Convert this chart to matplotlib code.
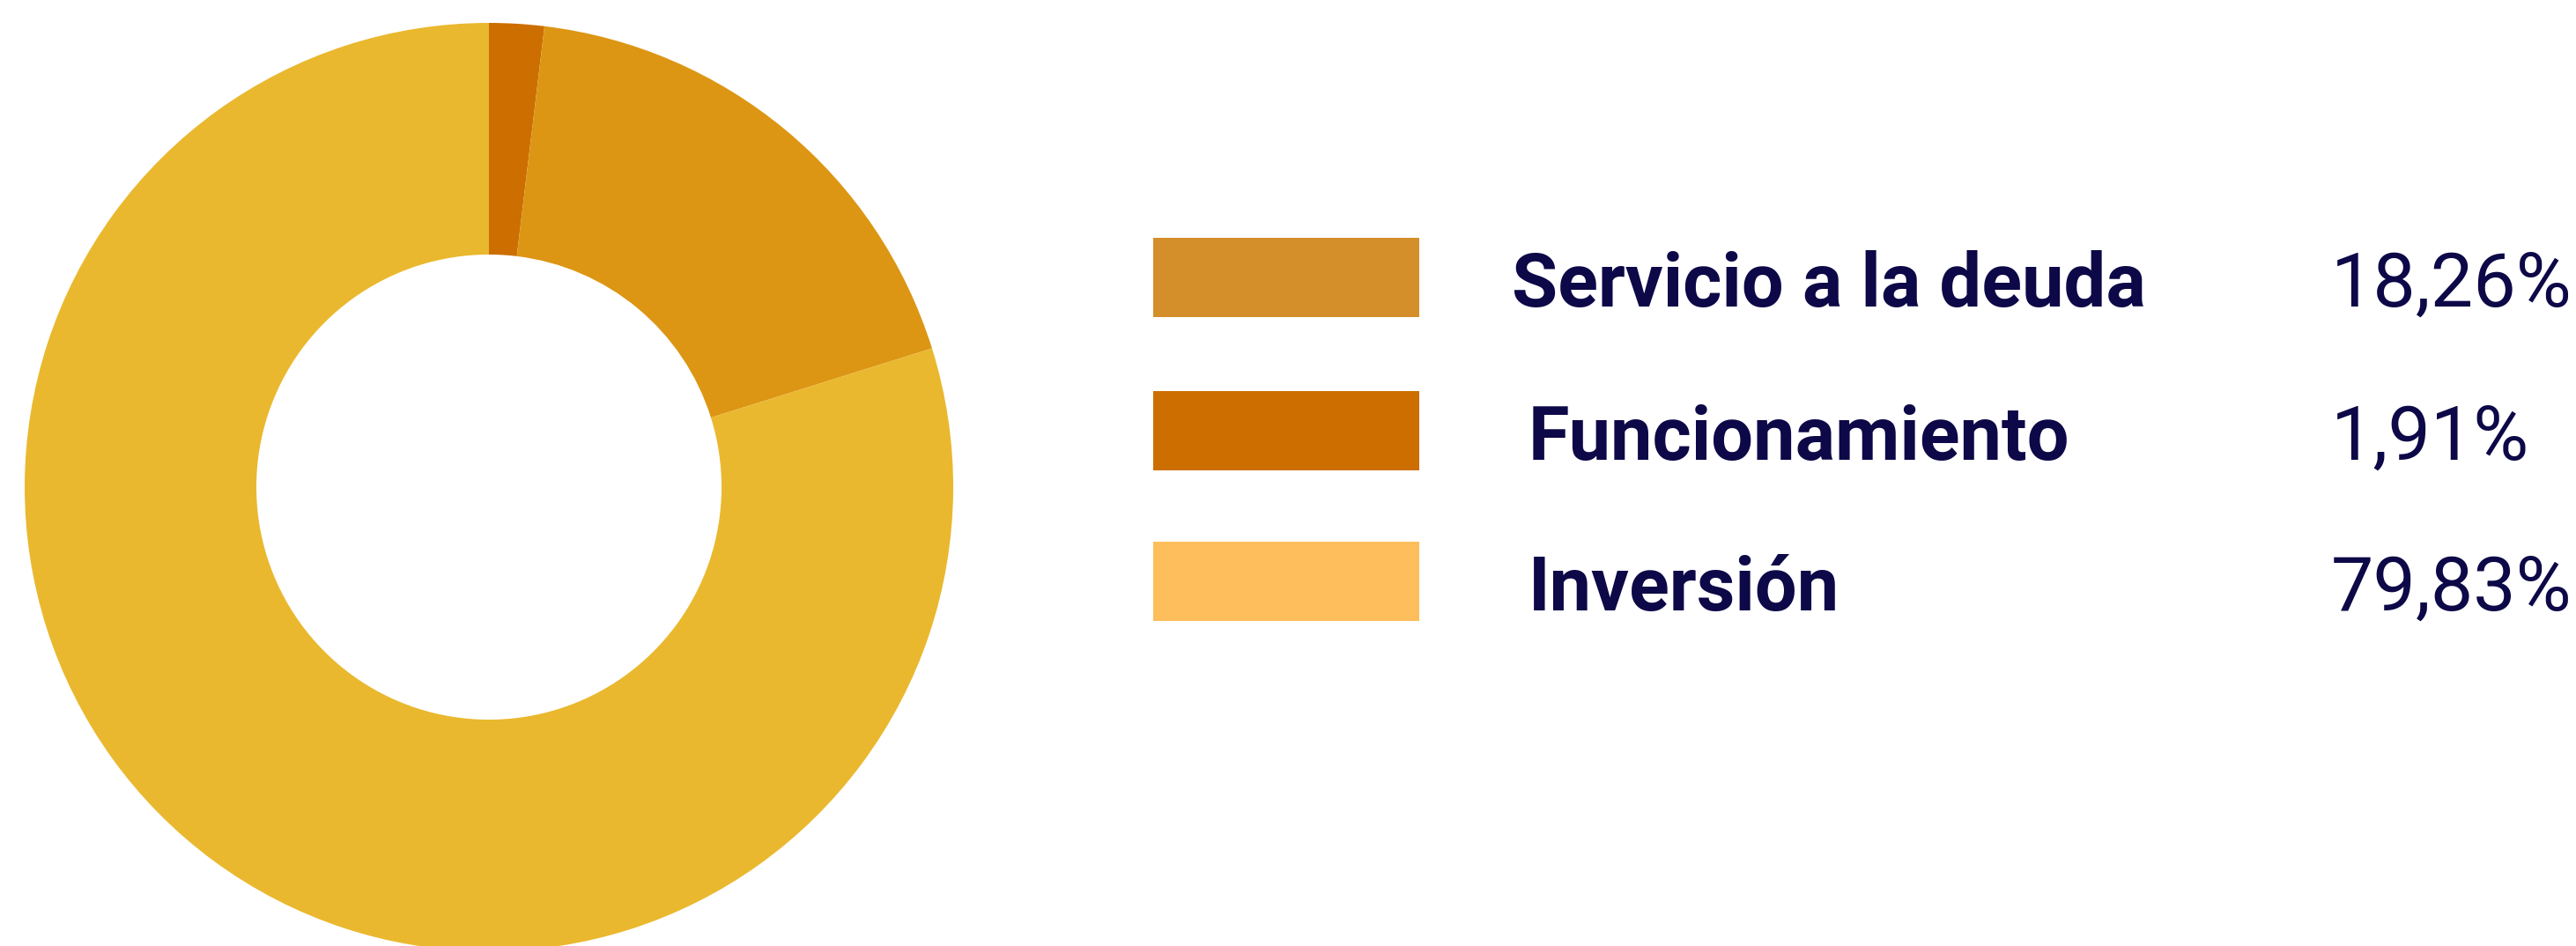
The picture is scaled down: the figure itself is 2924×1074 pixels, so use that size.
import matplotlib
matplotlib.use("Agg")
import matplotlib.pyplot as plt
import matplotlib.patches as patches

# data
categories = ['Servicio a la deuda', 'Funcionamiento', 'Inversión']
shares = [18.26, 1.91, 79.83]
legend_colors = ['#D48E2A', '#CC6E00', '#FDBE5B']
donut_colors = ['#DC9614', '#CC6E00', '#EAB82E']
# order the donut is drawn in, clockwise from 12 o'clock
donut_order = [1, 0, 2]

W, H = 2924, 1074
text_color = '#0D0847'

fig = plt.figure(figsize=(W / 100, H / 100), dpi=100)
ax = fig.add_axes([0, 0, 1, 1])

ax.pie([shares[i] for i in donut_order],
       colors=[donut_colors[i] for i in donut_order],
       startangle=90, counterclock=False,
       center=(555, H - 553), radius=527,
       wedgeprops=dict(width=263, linewidth=0),
       frame=True)

ax.set_xlim(0, W)
ax.set_ylim(0, H)
ax.set_aspect('auto')
ax.axis('off')

# legend block
rect_x, rect_w, rect_h = 1309, 302, 90
row_y = [H - 315, H - 489, H - 660]
label_x = [1716, 1735, 1735]
for i, name in enumerate(categories):
    ax.add_patch(patches.Rectangle((rect_x, row_y[i] - rect_h / 2), rect_w, rect_h,
                                   facecolor=legend_colors[i], edgecolor='none'))
    ax.text(label_x[i], row_y[i] - 1, name, fontsize=61, fontweight='bold',
            family='Roboto', color=text_color, va='center_baseline', ha='left')
    pct = f"{shares[i]:.2f}".replace('.', ',') + '%'
    ax.text(2646, row_y[i] - 1, pct, fontsize=62, family='Roboto',
            color=text_color, va='center_baseline', ha='left')

fig.savefig('out.png', dpi=100, facecolor='white')
